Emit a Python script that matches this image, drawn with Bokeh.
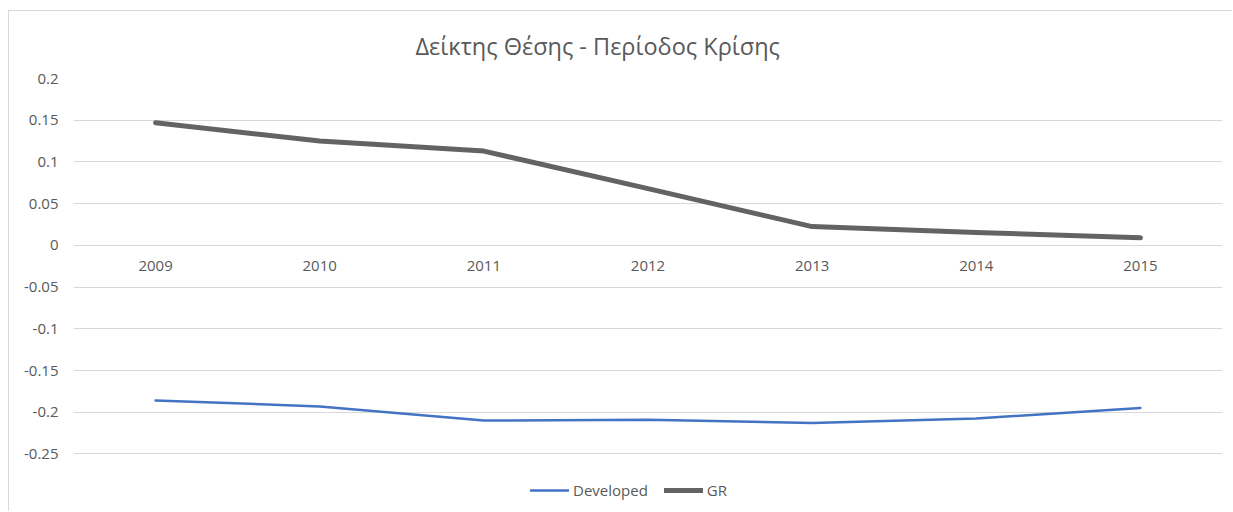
from bokeh.plotting import figure
from bokeh.models import (FixedTicker, CustomJSTickFormatter, Legend, LegendItem)
from bokeh.embed import file_html
from bokeh.resources import INLINE

years = ["2009", "2010", "2011", "2012", "2013", "2014", "2015"]
developed = [-0.186, -0.193, -0.210, -0.209, -0.213, -0.2075, -0.195]
gr = [0.147, 0.125, 0.113, 0.068, 0.0225, 0.0155, 0.009]
y_ticks = [-0.25, -0.2, -0.15, -0.1, -0.05, 0, 0.05, 0.1, 0.15, 0.2]
title_text = "Δείκτης Θέσης - Περίοδος Κρίσης"

FONT = "Open Sans"
TXT = "#595959"

p = figure(x_range=years, y_range=(-0.313, 0.2), width=1224, height=501,
           output_backend="svg", toolbar_location=None,
           min_border_left=64, min_border_right=11, min_border_top=67, min_border_bottom=6)
p.styles = {"margin-left": "8px", "margin-top": "10px",
            "border-left": "1px solid #d9d9d9", "border-top": "1px solid #d9d9d9"}

p.title.text = title_text
p.title.text_font = FONT
p.title.text_font_size = "23.5px"
p.title.text_font_style = "normal"
p.title.text_color = TXT
p.title.align = "left"
p.title.offset = 342
p.title.standoff = 33

p.outline_line_color = None
p.background_fill_color = "white"
p.border_fill_color = "white"

p.xgrid.grid_line_color = None
p.ygrid.grid_line_color = "#d9d9d9"
p.ygrid.grid_line_width = 1
p.ygrid.ticker = FixedTicker(ticks=y_ticks)

yax = p.yaxis[0]
yax.ticker = FixedTicker(ticks=y_ticks)
yax.formatter = CustomJSTickFormatter(code="return String(parseFloat(tick.toFixed(2)));")
yax.axis_line_color = None
yax.major_tick_line_color = None
yax.minor_tick_line_color = None
yax.major_tick_out = 0
yax.major_tick_in = 0
yax.major_label_standoff = 15
yax.major_label_text_font = FONT
yax.major_label_text_font_size = "15px"
yax.major_label_text_color = TXT

xax = p.xaxis[0]
xax.fixed_location = 0
xax.axis_line_color = None
xax.major_tick_line_color = None
xax.minor_tick_line_color = None
xax.major_tick_out = 0
xax.major_tick_in = 0
xax.major_label_standoff = 16
xax.major_label_text_font = FONT
xax.major_label_text_font_size = "15px"
xax.major_label_text_color = TXT

r_dev = p.line(years, developed, line_color="#4472C4", line_width=2.5, line_cap="round", line_join="round")
r_gr = p.line(years, gr, line_color="#636363", line_width=5, line_cap="round", line_join="round")

legend = Legend(items=[LegendItem(label="Developed", renderers=[r_dev]),
                       LegendItem(label="GR", renderers=[r_gr])],
                orientation="horizontal", location=(457, 6),
                padding=0, margin=0, spacing=16, glyph_width=39, label_standoff=4,
                label_text_font=FONT, label_text_font_size="15px", label_text_color=TXT,
                border_line_color=None, background_fill_alpha=0)
p.add_layout(legend, "center")

open("out.html", "w").write(file_html(p, INLINE))
